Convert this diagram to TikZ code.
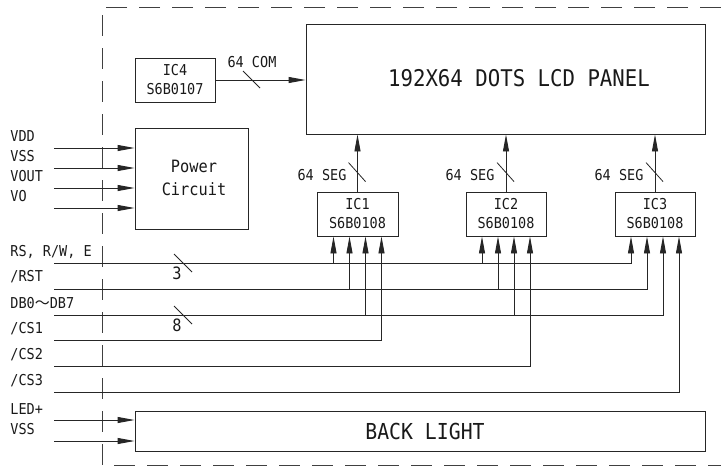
\documentclass[tikz,border=0pt]{standalone}
\usepackage{fontspec}
\usetikzlibrary{arrows.meta}
\newfontfamily\dm[FakeStretch=0.9]{DejaVu Sans Mono}
\newfontfamily\cjk{Noto Sans CJK SC}
\begin{document}
\begin{tikzpicture}[x=1pt,y=-1pt,
  line width=0.9pt, draw=black!85,
  box/.style={draw, rectangle, inner sep=0pt, align=center},
  tsm/.style={font=\dm\fontsize{15}{18}\selectfont, text=black!90},
  tmd/.style={font=\dm\fontsize{17}{23}\selectfont, text=black!90},
  tbig/.style={font=\dm\fontsize{23}{26}\selectfont, text=black!90},
  arr/.style={-{Triangle[length=17pt,width=6pt]}},
  border/.style={dash pattern=on 21pt off 12pt, line width=0.9pt, draw=black!75},
  lbl/.style={tsm, anchor=west, inner sep=0pt},
  tick/.style={line width=0.8pt}
]
\useasboundingbox (0,0) rectangle (721,466);
% dashed outline
\draw[border] (721,7) -- (102,7) -- (102,465) -- (721,465);

% boxes
\node[box, minimum width=399pt, minimum height=110pt] (lcd) at (505.5,79) {};
\node[tbig] (lcdt) at (519,78) {192X64 DOTS LCD PANEL};
\node[box, minimum width=80pt, minimum height=44pt, tsm] (ic4) at (175,80) {IC4\\[1pt]S6B0107};
\node[box, minimum width=113pt, minimum height=101pt] (pwr) at (191.5,178.5) {};
\node[tmd, align=center] (pwrt) at (194,178) {Power\\Circuit};
\node[box, minimum width=81pt, minimum height=44pt, tsm] (ic1) at (357.5,214) {IC1\\[1pt]S6B0108};
\node[box, minimum width=80pt, minimum height=44pt, tsm] (ic2) at (506,214) {IC2\\[1pt]S6B0108};
\node[box, minimum width=80pt, minimum height=44pt, tsm] (ic3) at (655,214) {IC3\\[1pt]S6B0108};
\node[box, minimum width=570pt, minimum height=40pt] (bl) at (420,431) {};
\node[font=\dm\fontsize{22}{24}\selectfont, text=black!90] (blt) at (425,431) {BACK LIGHT};

% IC4 -> LCD
\draw[arr] (ic4.east) -- (ic4.east -| lcd.west);
\node[tsm] (lcom) at (252,62) {64 COM};
\draw[tick] (243,71) -- (260,88);

% ICs -> LCD
\foreach \i in {1,2,3}{
  \draw[arr] (ic\i.north) -- (ic\i.north |- lcd.south);
  \draw[tick] ([xshift=-9pt,yshift=29pt]ic\i.north) -- ([xshift=8pt,yshift=10pt]ic\i.north);
}
\node[tsm] (lseg1) at (322,175) {64 SEG};
\node[tsm] (lseg2) at (470,175) {64 SEG};
\node[tsm] (lseg3) at (619,175) {64 SEG};

% pins
\foreach \i in {1,2,3}{
  \coordinate (ic\i p1) at ([xshift=-24pt]ic\i.south);
  \coordinate (ic\i p2) at ([xshift=-8pt]ic\i.south);
  \coordinate (ic\i p3) at ([xshift=8pt]ic\i.south);
  \coordinate (ic\i p4) at ([xshift=24pt]ic\i.south);
}

% power inputs
\foreach \y [count=\k] in {148,168,188,208}{
  \coordinate (pin\k) at (54,\y);
  \draw[arr] (pin\k) -- (pin\k -| pwr.west);
}
\node[lbl] (lvdd) at (10,136) {VDD};
\node[lbl] (lvss) at (10,156) {VSS};
\node[lbl] (lvout) at (10,176) {VOUT};
\node[lbl] (lvo) at (10,196) {VO};

% bus lines
\coordinate (rs) at (54,263);
\coordinate (rst) at (54,289);
\coordinate (db) at (54,315);
\coordinate (cs1) at (54,340);
\coordinate (cs2) at (54,366);
\coordinate (cs3) at (54,392);

\draw[arr] (rs) -| (ic3p1);
\draw[arr] (rs -| ic1p1) -- (ic1p1);
\draw[arr] (rs -| ic2p1) -- (ic2p1);

\draw[arr] (rst) -| (ic3p2);
\draw[arr] (rst -| ic1p2) -- (ic1p2);
\draw[arr] (rst -| ic2p2) -- (ic2p2);

\draw[arr] (db) -| (ic3p3);
\draw[arr] (db -| ic1p3) -- (ic1p3);
\draw[arr] (db -| ic2p3) -- (ic2p3);

\draw[arr] (cs1) -| (ic1p4);
\draw[arr] (cs2) -| (ic2p4);
\draw[arr] (cs3) -| (ic3p4);

\draw[tick] (174,254) -- (192,272);
\node[font=\dm\fontsize{17}{20}\selectfont, text=black!90] (n3) at (177,273) {3};
\draw[tick] (174,306) -- (192,324);
\node[font=\dm\fontsize{17}{20}\selectfont, text=black!90] (n8) at (177,325) {8};

\node[lbl] (lrs) at (10,252) {RS, R/W, E};
\node[lbl] (lrst) at (10,277) {/RST};
\node[lbl] (ldb) at (10,303) {DB0{\cjk\fontsize{15}{18}\selectfont ～}DB7};
\node[lbl] (lcs1) at (10,329) {/CS1};
\node[lbl] (lcs2) at (10,355) {/CS2};
\node[lbl] (lcs3) at (10,381) {/CS3};

% backlight inputs
\coordinate (led) at (54,420);
\coordinate (vss2) at (54,441);
\draw[arr] (led) -- (led -| bl.west);
\draw[arr] (vss2) -- (vss2 -| bl.west);
\node[lbl] (lled) at (10,409) {LED+};
\node[lbl] (lvss2) at (10,429) {VSS};
\end{tikzpicture}
\end{document}
